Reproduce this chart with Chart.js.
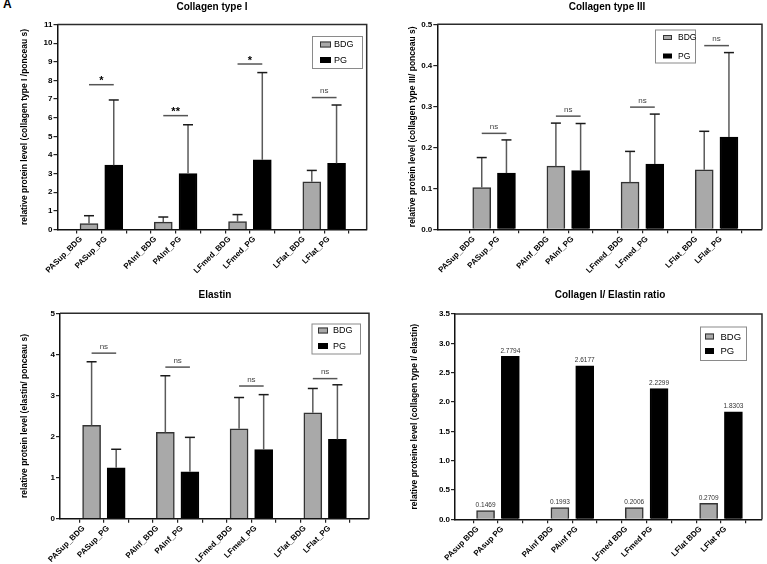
<!DOCTYPE html>
<html>
<head>
<meta charset="utf-8">
<script src="https://cdn.jsdelivr.net/npm/chart.js@4.4.1/dist/chart.umd.min.js"></script>
<style>
html,body{margin:0;padding:0;background:#fff;}
body{width:767px;height:564px;position:relative;overflow:hidden;}
canvas{position:absolute;}
#panelLetter{position:absolute;left:3px;top:-3px;font:bold 12px "Liberation Sans",Arial,sans-serif;color:#000;}
</style>
</head>
<body>
<div id="panelLetter">A</div>
<canvas id="c1"></canvas>
<canvas id="c2"></canvas>
<canvas id="c3"></canvas>
<canvas id="c4"></canvas>
<script>
// ---------------- DATA ----------------
const seriesNames = ['BDG', 'PG'];
const groupNames = ['PASup', 'PAInf', 'LFmed', 'LFlat'];
const barLabels = ['PASup_BDG', 'PASup_PG', 'PAInf_BDG', 'PAInf_PG', 'LFmed_BDG', 'LFmed_PG', 'LFlat_BDG', 'LFlat_PG'];
const ratioBarLabels = ['PAsup BDG', 'PAsup PG', 'PAinf BDG', 'PAinf PG', 'LFmed BDG', 'LFmed PG', 'LFlat BDG', 'LFlat PG'];

// Collagen type I
const col1Bdg = [0.32, 0.40, 0.43, 2.56];
const col1BdgErrTop = [0.74, 0.67, 0.80, 3.17];
const col1Pg = [3.45, 3.00, 3.74, 3.55];
const col1PgErrTop = [6.95, 5.62, 8.42, 6.68];
const col1SigLevel = [7.77, 6.11, 8.88, 7.08];
const col1SigText = ['*', '**', '*', 'ns'];
const col1YTicks = [0, 1, 2, 3, 4, 5, 6, 7, 8, 9, 10, 11];

// Collagen type III
const col3Bdg = [0.102, 0.154, 0.115, 0.145];
const col3BdgErrTop = [0.175, 0.259, 0.190, 0.239];
const col3Pg = [0.137, 0.143, 0.159, 0.225];
const col3PgErrTop = [0.218, 0.258, 0.281, 0.431];
const col3SigLevel = [0.234, 0.276, 0.298, 0.448];
const col3SigText = ['ns', 'ns', 'ns', 'ns'];
const col3YTicks = [0.0, 0.1, 0.2, 0.3, 0.4, 0.5];

// Elastin
const elaBdg = [2.27, 2.10, 2.19, 2.58];
const elaBdgErrTop = [3.82, 3.48, 2.95, 3.17];
const elaPg = [1.24, 1.14, 1.68, 1.93];
const elaPgErrTop = [1.69, 1.98, 3.02, 3.26];
const elaSigLevel = [4.03, 3.69, 3.23, 3.41];
const elaSigText = ['ns', 'ns', 'ns', 'ns'];
const elaYTicks = [0, 1, 2, 3, 4, 5];

// Collagen I / Elastin ratio
const ratioBdg = [0.1469, 0.1993, 0.2006, 0.2709];
const ratioPg = [2.7794, 2.6177, 2.2299, 1.8303];
const ratioYTicks = [0.0, 0.5, 1.0, 1.5, 2.0, 2.5, 3.0, 3.5];

// ---------------- STYLE / LAYOUT ----------------
const FONT = '"Liberation Sans", Arial, Helvetica, sans-serif';
Chart.defaults.font.family = FONT;
Chart.defaults.color = '#000';
const BDG_FILL = '#a9a9a9', BDG_EDGE = '#333333', PG_FILL = '#000000';

function buildPanel(p) {
  const cv = document.getElementById(p.id);
  cv.width = p.canvas.w; cv.height = p.canvas.h;
  cv.style.left = p.canvas.l + 'px'; cv.style.top = p.canvas.t + 'px';
  cv.style.width = p.canvas.w + 'px'; cv.style.height = p.canvas.h + 'px';

  const yTitleSize = 8.5;
  const padLeft = p.yTitleX - p.canvas.l - yTitleSize * 1.2 / 2;
  const yW = p.plot.l - p.canvas.l - padLeft;
  const padTop = p.plot.t - p.canvas.t;
  const padRight = p.canvas.l + p.canvas.w - p.plot.r;
  const xH = p.canvas.t + p.canvas.h - p.plot.b;

  const posBdg = p.bdg.map((v, i) => i * 3);
  const posPg = p.pg.map((v, i) => i * 3 + 1);
  const xTickLabels = new Array(11).fill('');
  p.xLabels.forEach((lab, i) => { xTickLabels[Math.floor(i / 2) * 3 + (i % 2)] = lab; });
  const yTicks = p.yTicks;

  const overlay = {
    id: 'overlay_' + p.id,
    afterDatasetsDraw(chart) {
      const {ctx, chartArea: a} = chart;
      const xs = chart.scales.x, ys = chart.scales.y;
      const line = (x0, y0, x1, y1) => { ctx.beginPath(); ctx.moveTo(x0, y0); ctx.lineTo(x1, y1); ctx.stroke(); };
      ctx.save();
      // frame (top & right)
      ctx.strokeStyle = '#2b2b2b'; ctx.lineWidth = 1.5;
      ctx.beginPath(); ctx.moveTo(a.left, a.top); ctx.lineTo(a.right, a.top); ctx.lineTo(a.right, a.bottom); ctx.stroke();
      // error bars
      if (p.bdgErr) {
        [[p.bdg, p.bdgErr, posBdg], [p.pg, p.pgErr, posPg]].forEach(([vals, tops, pos]) => {
          vals.forEach((v, i) => {
            const px = xs.getPixelForValue(pos[i]);
            const y0 = ys.getPixelForValue(v), y1 = ys.getPixelForValue(tops[i]);
            ctx.strokeStyle = '#5a5a5a'; ctx.lineWidth = 1.5; line(px, y0, px, y1);
            ctx.strokeStyle = '#1a1a1a'; ctx.lineWidth = 1.5; line(px - 5, y1, px + 5, y1);
          });
        });
      }
      // significance markers
      if (p.sig) {
        p.sig.forEach((lev, g) => {
          const x0 = xs.getPixelForValue(posBdg[g]), x1 = xs.getPixelForValue(posPg[g]);
          const py = ys.getPixelForValue(lev);
          ctx.strokeStyle = '#555'; ctx.lineWidth = 1.5; line(x0, py, x1, py);
          const t = p.sigText[g];
          ctx.textAlign = 'center';
          if (t === 'ns') {
            ctx.font = '8px ' + FONT; ctx.fillStyle = '#444'; ctx.textBaseline = 'middle';
            ctx.fillText(t, (x0 + x1) / 2, py - 6.5);
          } else {
            ctx.font = 'bold 11px ' + FONT; ctx.fillStyle = '#000'; ctx.textBaseline = 'alphabetic';
            ctx.fillText(t, (x0 + x1) / 2, py - 0.5);
          }
        });
      }
      // value labels
      if (p.valueLabels) {
        ctx.font = '6.5px ' + FONT; ctx.fillStyle = '#333'; ctx.textAlign = 'center'; ctx.textBaseline = 'bottom';
        [[p.bdg, posBdg], [p.pg, posPg]].forEach(([vals, pos]) => {
          vals.forEach((v, i) => {
            ctx.fillText(v.toFixed(4), xs.getPixelForValue(pos[i]), ys.getPixelForValue(v) - 2);
          });
        });
      }
      // legend
      const L = p.legend, ox = p.canvas.l, oy = p.canvas.t;
      const lx = L.x - ox, ly = L.y - oy;
      ctx.strokeStyle = '#8a8a8a'; ctx.lineWidth = 1;
      ctx.strokeRect(lx + 0.5, ly + 0.5, L.w, L.h);
      seriesNames.forEach((name, k) => {
        const ry = ly + L.rows[k];
        const sx = lx + L.sw[0], sw = L.sw[1], sh = L.sw[2];
        if (k === 0) {
          ctx.fillStyle = BDG_FILL; ctx.fillRect(sx, ry - sh / 2, sw, sh);
          ctx.strokeStyle = BDG_EDGE; ctx.lineWidth = 1; ctx.strokeRect(sx + 0.5, ry - sh / 2 + 0.5, sw - 1, sh - 1);
        } else {
          ctx.fillStyle = PG_FILL; ctx.fillRect(sx, ry - sh / 2, sw, sh);
        }
        ctx.fillStyle = '#000'; ctx.font = L.fs + 'px ' + FONT; ctx.textAlign = 'left'; ctx.textBaseline = 'middle';
        ctx.fillText(name, lx + L.tx, ry + 0.5);
      });
      // title
      ctx.font = 'bold 10px ' + FONT; ctx.fillStyle = '#000'; ctx.textAlign = 'center'; ctx.textBaseline = 'middle';
      ctx.fillText(p.title, p.titlePos[0] - ox, p.titlePos[1] - oy);
      ctx.restore();
    }
  };

  new Chart(cv, {
    type: 'bar',
    data: {
      datasets: [
        { label: seriesNames[0], data: p.bdg.map((v, i) => ({x: posBdg[i], y: v})),
          backgroundColor: BDG_FILL, borderColor: BDG_EDGE, borderWidth: 1.5, barThickness: 18, grouped: false },
        { label: seriesNames[1], data: p.pg.map((v, i) => ({x: posPg[i], y: v})),
          backgroundColor: PG_FILL, borderColor: PG_FILL, borderWidth: 1.5, barThickness: 18, grouped: false }
      ]
    },
    options: {
      responsive: false,
      animation: false,
      devicePixelRatio: 1,
      layout: { padding: { left: padLeft, top: padTop, right: padRight, bottom: 0 } },
      plugins: { legend: { display: false }, tooltip: { enabled: false }, title: { display: false } },
      scales: {
        x: {
          type: 'linear', min: p.xRange[0], max: p.xRange[1],
          afterBuildTicks: (s) => { s.ticks = xTickLabels.map((_, i) => ({ value: i })); },
          afterFit: (s) => { s.height = xH; },
          ticks: { autoSkip: false, minRotation: 45, maxRotation: 45, padding: 1, labelOffset: -8,
                   font: { size: 8, weight: 'bold' }, color: '#000',
                   callback: (v) => xTickLabels[v] ?? '' },
          grid: { display: true, drawOnChartArea: false, drawTicks: true, tickLength: 4, color: '#222', lineWidth: 1.2 },
          border: { display: true, color: '#111', width: 1.5 }
        },
        y: {
          type: 'linear', min: yTicks[0], max: yTicks[yTicks.length - 1],
          afterBuildTicks: (s) => { s.ticks = yTicks.map(v => ({ value: v })); },
          afterFit: (s) => { s.width = yW; },
          ticks: { padding: 1, font: { size: 8, weight: 'bold' }, color: '#000',
                   callback: (v) => p.yDecimals ? Number(v).toFixed(p.yDecimals) : String(v) },
          grid: { display: true, drawOnChartArea: false, drawTicks: true, tickLength: 4, color: '#222', lineWidth: 1.2 },
          border: { display: true, color: '#111', width: 1.5 },
          title: { display: true, text: p.yTitle, font: { size: yTitleSize, weight: 'bold' }, color: '#000', padding: { top: 0, bottom: 0 } }
        }
      }
    },
    plugins: [overlay]
  });
}

buildPanel({
  id: 'c1', canvas: { l: 0, t: 0, w: 380, h: 282 }, plot: { l: 57.5, r: 366.7, t: 24.5, b: 229.5 },
  yTitleX: 25, xRange: [-0.705, 10.65], yTicks: col1YTicks, yDecimals: 0,
  title: 'Collagen type I', titlePos: [212, 7.5],
  yTitle: 'relative protein level (collagen type I /ponceau s)',
  bdg: col1Bdg, pg: col1Pg, bdgErr: col1BdgErrTop, pgErr: col1PgErrTop, sig: col1SigLevel, sigText: col1SigText,
  xLabels: barLabels,
  legend: { x: 312, y: 36, w: 50, h: 32, rows: [8.5, 24], sw: [8, 11, 6], tx: 22, fs: 9 }
});
buildPanel({
  id: 'c2', canvas: { l: 380, t: 0, w: 387, h: 282 }, plot: { l: 437.3, r: 762, t: 24.3, b: 229.3 },
  yTitleX: 413, xRange: [-1.2, 10.74], yTicks: col3YTicks, yDecimals: 1,
  title: 'Collagen type III', titlePos: [607, 7],
  yTitle: 'relative protein level (collagen type III/ ponceau s)',
  bdg: col3Bdg, pg: col3Pg, bdgErr: col3BdgErrTop, pgErr: col3PgErrTop, sig: col3SigLevel, sigText: col3SigText,
  xLabels: barLabels,
  legend: { x: 655, y: 29.5, w: 40, h: 33, rows: [8, 26.5], sw: [8, 9, 5], tx: 23, fs: 8.5 }
});
buildPanel({
  id: 'c3', canvas: { l: 0, t: 282, w: 380, h: 282 }, plot: { l: 60, r: 369, t: 313.3, b: 518.7 },
  yTitleX: 25, xRange: [-0.714, 10.714], yTicks: elaYTicks, yDecimals: 0,
  title: 'Elastin', titlePos: [215, 295.7],
  yTitle: 'relative protein level (elastin/ ponceau s)',
  bdg: elaBdg, pg: elaPg, bdgErr: elaBdgErrTop, pgErr: elaPgErrTop, sig: elaSigLevel, sigText: elaSigText,
  xLabels: barLabels,
  legend: { x: 311.5, y: 323.5, w: 48.5, h: 30, rows: [7, 22.5], sw: [6.5, 10, 6], tx: 21.5, fs: 9 }
});
buildPanel({
  id: 'c4', canvas: { l: 380, t: 282, w: 387, h: 282 }, plot: { l: 455, r: 762, t: 314, b: 519.3 },
  yTitleX: 415, xRange: [-0.67, 10.59], yTicks: ratioYTicks, yDecimals: 1,
  title: 'Collagen I/ Elastin ratio', titlePos: [610, 295.7],
  yTitle: 'relative proteine level (collagen type I/ elastin)',
  bdg: ratioBdg, pg: ratioPg, valueLabels: true,
  xLabels: ratioBarLabels,
  legend: { x: 700, y: 326.5, w: 46, h: 33.5, rows: [10, 24.5], sw: [5, 9, 6], tx: 20.5, fs: 9.5 }
});
</script>
</body>
</html>
